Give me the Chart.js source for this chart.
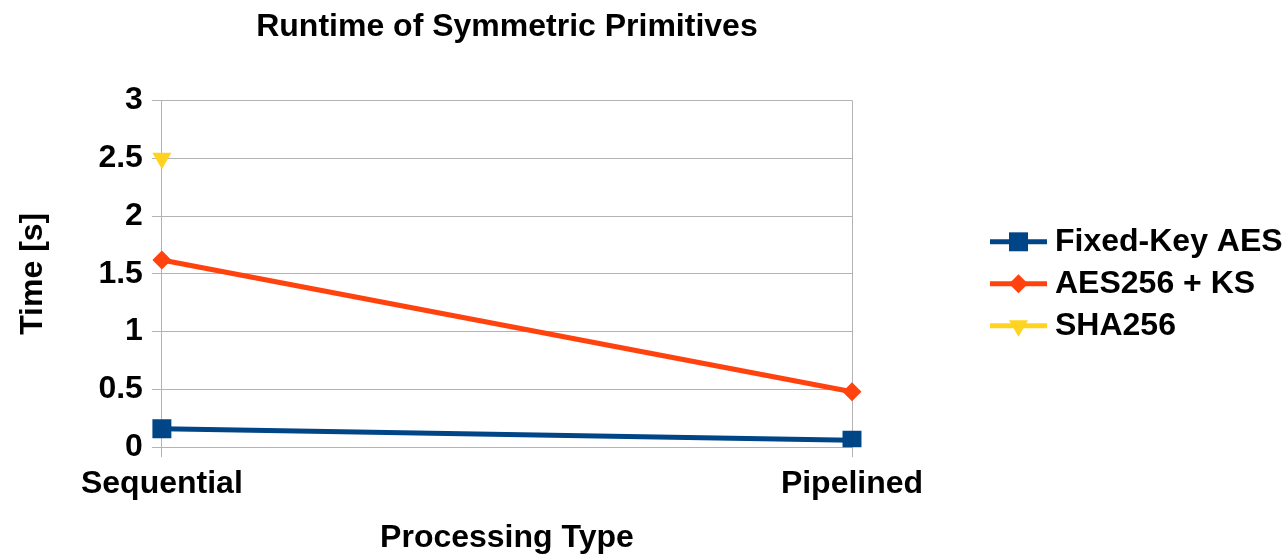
<!DOCTYPE html>
<html lang="en">
<head>
    <meta charset="UTF-8">
    <title>Runtime of Symmetric Primitives</title>
    <script src="https://cdn.jsdelivr.net/npm/chart.js"></script>
    <style>
        * { margin: 0; padding: 0; box-sizing: border-box; }
        body { background: #fff; }
        .chart-container { width: 1287px; height: 557px; position: relative; }
    </style>
</head>
<body>
    <div class="chart-container">
        <canvas id="runtimeChart"></canvas>
    </div>

    <script>
        // data
        const categories = ['Sequential', 'Pipelined'];
        const fixedKeyAes = [0.16, 0.06];
        const aes256Ks = [1.62, 0.48];
        const sha256 = [2.5, null];
        const yTicks = [0, 0.5, 1, 1.5, 2, 2.5, 3];

        const FONT = "'Liberation Sans', Arial, sans-serif";
        const GRID = '#b3b3b3';
        const SIZE = 32;

        // legend drawn by hand: line with marker, like the office chart
        const sideLegend = {
            id: 'sideLegend',
            afterDraw(chart) {
                const ctx = chart.ctx;
                const area = chart.chartArea;
                const x0 = area.right + 138;
                const gap = 42;
                const yMid = (area.top + area.bottom) / 2 + 10;
                const sets = chart.data.datasets;
                ctx.save();
                sets.forEach((ds, i) => {
                    const y = yMid + (i - (sets.length - 1) / 2) * gap;
                    ctx.strokeStyle = ds.borderColor;
                    ctx.lineWidth = ds.borderWidth;
                    ctx.beginPath();
                    ctx.moveTo(x0, y);
                    ctx.lineTo(x0 + 57, y);
                    ctx.stroke();
                    ctx.fillStyle = ds.pointBackgroundColor;
                    ctx.strokeStyle = ds.pointBackgroundColor;
                    Chart.helpers.drawPoint(ctx, {
                        pointStyle: ds.pointStyle,
                        rotation: ds.pointRotation || 0,
                        radius: ds.pointRadius,
                        borderWidth: 0
                    }, x0 + 28.5, y);
                    ctx.fillStyle = '#000';
                    ctx.font = 'bold ' + SIZE + 'px ' + FONT;
                    ctx.textBaseline = 'middle';
                    ctx.textAlign = 'left';
                    ctx.fillText(ds.label, x0 + 65, y);
                });
                ctx.restore();
            }
        };

        new Chart(document.getElementById('runtimeChart'), {
            type: 'line',
            data: {
                labels: categories,
                datasets: [{
                    label: 'Fixed-Key AES',
                    data: fixedKeyAes,
                    borderColor: '#004586',
                    pointBackgroundColor: '#004586',
                    pointBorderColor: '#004586',
                    borderWidth: 5,
                    pointStyle: 'rect',
                    pointRadius: 13.4,
                    pointBorderWidth: 0
                }, {
                    label: 'AES256 + KS',
                    data: aes256Ks,
                    borderColor: '#ff420e',
                    pointBackgroundColor: '#ff420e',
                    pointBorderColor: '#ff420e',
                    borderWidth: 5,
                    pointStyle: 'rectRot',
                    pointRadius: 9.5,
                    pointBorderWidth: 0
                }, {
                    label: 'SHA256',
                    data: sha256,
                    borderColor: '#ffd320',
                    pointBackgroundColor: '#ffd320',
                    pointBorderColor: '#ffd320',
                    borderWidth: 5,
                    pointStyle: 'triangle',
                    pointRotation: 180,
                    pointRadius: 11,
                    pointBorderWidth: 0
                }]
            },
            options: {
                responsive: true,
                maintainAspectRatio: false,
                animation: false,
                events: [],
                layout: {
                    padding: { left: 0, right: 435, top: 0, bottom: 0 }
                },
                plugins: {
                    legend: { display: false },
                    tooltip: { enabled: false },
                    title: {
                        display: true,
                        text: 'Runtime of Symmetric Primitives',
                        fullSize: false,
                        color: '#000',
                        font: { family: FONT, size: SIZE, weight: 'bold' },
                        padding: { top: 8, bottom: 54 }
                    }
                },
                scales: {
                    x: {
                        offset: false,
                        grid: { color: GRID, tickLength: 10, lineWidth: 1 },
                        border: { color: GRID },
                        ticks: {
                            color: '#000',
                            padding: 8,
                            maxRotation: 0,
                            font: { family: FONT, size: SIZE, weight: 'bold' }
                        },
                        title: {
                            display: true,
                            text: 'Processing Type',
                            color: '#000',
                            font: { family: FONT, size: SIZE, weight: 'bold' },
                            padding: { top: 7, bottom: 0 }
                        }
                    },
                    y: {
                        min: 0,
                        max: 3,
                        afterBuildTicks(axis) {
                            axis.ticks = yTicks.map(v => ({ value: v }));
                        },
                        grid: { color: GRID, tickLength: 10, lineWidth: 1 },
                        border: { color: GRID },
                        ticks: {
                            color: '#000',
                            padding: 9,
                            callback: v => String(v),
                            font: { family: FONT, size: SIZE, weight: 'bold' }
                        },
                        title: {
                            display: true,
                            text: 'Time [s]',
                            color: '#000',
                            font: { family: FONT, size: SIZE, weight: 'bold' },
                            padding: { top: 14, bottom: 37 }
                        }
                    }
                }
            },
            plugins: [sideLegend]
        });
    </script>
</body>
</html>
